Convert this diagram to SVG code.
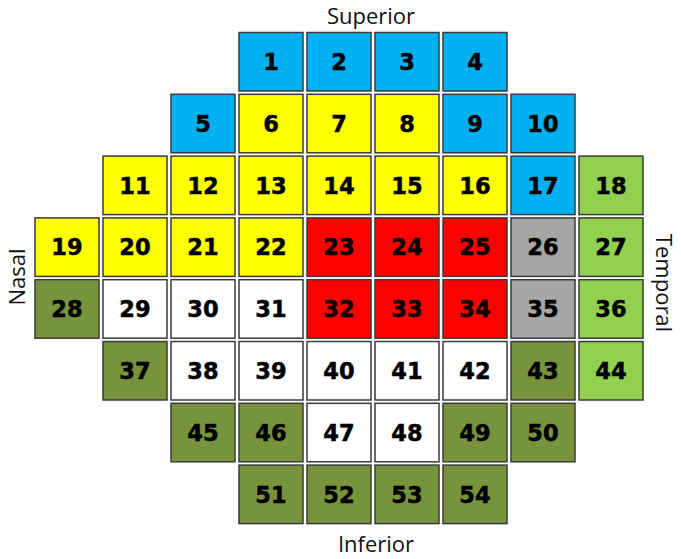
<svg xmlns="http://www.w3.org/2000/svg" width="681" height="559" viewBox="0 0 681 559">
<style>
.c{stroke:#3a3a3a;stroke-width:1.5}
.b{fill:#00B0F0}.y{fill:#FFFF00}.r{fill:#FF0000}.g{fill:#A6A6A6}.l{fill:#92D050}.d{fill:#77933C}.w{fill:#FFFFFF}
.n{font-family:"DejaVu Sans",Verdana,sans-serif;font-weight:bold;font-size:22.5px;text-anchor:middle;fill:#000;stroke:#000;stroke-width:0.5}
.lab{font-family:"Open Sans","Liberation Sans",sans-serif;font-size:22px;text-anchor:middle;fill:#111}
</style>
<rect width="681" height="559" fill="#fff"/>
<g id="labels">
<text class="lab" x="371" y="24">Superior</text>
<text class="lab" x="376" y="552">Inferior</text>
<text class="lab" transform="translate(25,277) rotate(-90)">Nasal</text>
<text class="lab" transform="translate(656,283) rotate(90)">Temporal</text>
</g>
<g id="cells">
<g id="c1"><rect class="c b" x="239" y="32.5" width="64" height="58.5"/><text class="n" x="271" y="70">1</text></g>
<g id="c2"><rect class="c b" x="307" y="32.5" width="64" height="58.5"/><text class="n" x="339" y="70">2</text></g>
<g id="c3"><rect class="c b" x="375" y="32.5" width="64" height="58.5"/><text class="n" x="407" y="70">3</text></g>
<g id="c4"><rect class="c b" x="443" y="32.5" width="64" height="58.5"/><text class="n" x="475" y="70">4</text></g>

<g id="c5"><rect class="c b" x="171" y="94.3" width="64" height="58.5"/><text class="n" x="203" y="131.8">5</text></g>
<g id="c6"><rect class="c y" x="239" y="94.3" width="64" height="58.5"/><text class="n" x="271" y="131.8">6</text></g>
<g id="c7"><rect class="c y" x="307" y="94.3" width="64" height="58.5"/><text class="n" x="339" y="131.8">7</text></g>
<g id="c8"><rect class="c y" x="375" y="94.3" width="64" height="58.5"/><text class="n" x="407" y="131.8">8</text></g>
<g id="c9"><rect class="c b" x="443" y="94.3" width="64" height="58.5"/><text class="n" x="475" y="131.8">9</text></g>
<g id="c10"><rect class="c b" x="511" y="94.3" width="64" height="58.5"/><text class="n" x="543" y="131.8">10</text></g>

<g id="c11"><rect class="c y" x="103" y="156.1" width="64" height="58.5"/><text class="n" x="135" y="193.6">11</text></g>
<g id="c12"><rect class="c y" x="171" y="156.1" width="64" height="58.5"/><text class="n" x="203" y="193.6">12</text></g>
<g id="c13"><rect class="c y" x="239" y="156.1" width="64" height="58.5"/><text class="n" x="271" y="193.6">13</text></g>
<g id="c14"><rect class="c y" x="307" y="156.1" width="64" height="58.5"/><text class="n" x="339" y="193.6">14</text></g>
<g id="c15"><rect class="c y" x="375" y="156.1" width="64" height="58.5"/><text class="n" x="407" y="193.6">15</text></g>
<g id="c16"><rect class="c y" x="443" y="156.1" width="64" height="58.5"/><text class="n" x="475" y="193.6">16</text></g>
<g id="c17"><rect class="c b" x="511" y="156.1" width="64" height="58.5"/><text class="n" x="543" y="193.6">17</text></g>
<g id="c18"><rect class="c l" x="579" y="156.1" width="64" height="58.5"/><text class="n" x="611" y="193.6">18</text></g>

<g id="c19"><rect class="c y" x="35" y="217.9" width="64" height="58.5"/><text class="n" x="67" y="255.4">19</text></g>
<g id="c20"><rect class="c y" x="103" y="217.9" width="64" height="58.5"/><text class="n" x="135" y="255.4">20</text></g>
<g id="c21"><rect class="c y" x="171" y="217.9" width="64" height="58.5"/><text class="n" x="203" y="255.4">21</text></g>
<g id="c22"><rect class="c y" x="239" y="217.9" width="64" height="58.5"/><text class="n" x="271" y="255.4">22</text></g>
<g id="c23"><rect class="c r" x="307" y="217.9" width="64" height="58.5"/><text class="n" x="339" y="255.4">23</text></g>
<g id="c24"><rect class="c r" x="375" y="217.9" width="64" height="58.5"/><text class="n" x="407" y="255.4">24</text></g>
<g id="c25"><rect class="c r" x="443" y="217.9" width="64" height="58.5"/><text class="n" x="475" y="255.4">25</text></g>
<g id="c26"><rect class="c g" x="511" y="217.9" width="64" height="58.5"/><text class="n" x="543" y="255.4">26</text></g>
<g id="c27"><rect class="c l" x="579" y="217.9" width="64" height="58.5"/><text class="n" x="611" y="255.4">27</text></g>

<g id="c28"><rect class="c d" x="35" y="279.7" width="64" height="58.5"/><text class="n" x="67" y="317.2">28</text></g>
<g id="c29"><rect class="c w" x="103" y="279.7" width="64" height="58.5"/><text class="n" x="135" y="317.2">29</text></g>
<g id="c30"><rect class="c w" x="171" y="279.7" width="64" height="58.5"/><text class="n" x="203" y="317.2">30</text></g>
<g id="c31"><rect class="c w" x="239" y="279.7" width="64" height="58.5"/><text class="n" x="271" y="317.2">31</text></g>
<g id="c32"><rect class="c r" x="307" y="279.7" width="64" height="58.5"/><text class="n" x="339" y="317.2">32</text></g>
<g id="c33"><rect class="c r" x="375" y="279.7" width="64" height="58.5"/><text class="n" x="407" y="317.2">33</text></g>
<g id="c34"><rect class="c r" x="443" y="279.7" width="64" height="58.5"/><text class="n" x="475" y="317.2">34</text></g>
<g id="c35"><rect class="c g" x="511" y="279.7" width="64" height="58.5"/><text class="n" x="543" y="317.2">35</text></g>
<g id="c36"><rect class="c l" x="579" y="279.7" width="64" height="58.5"/><text class="n" x="611" y="317.2">36</text></g>

<g id="c37"><rect class="c d" x="103" y="341.5" width="64" height="58.5"/><text class="n" x="135" y="379">37</text></g>
<g id="c38"><rect class="c w" x="171" y="341.5" width="64" height="58.5"/><text class="n" x="203" y="379">38</text></g>
<g id="c39"><rect class="c w" x="239" y="341.5" width="64" height="58.5"/><text class="n" x="271" y="379">39</text></g>
<g id="c40"><rect class="c w" x="307" y="341.5" width="64" height="58.5"/><text class="n" x="339" y="379">40</text></g>
<g id="c41"><rect class="c w" x="375" y="341.5" width="64" height="58.5"/><text class="n" x="407" y="379">41</text></g>
<g id="c42"><rect class="c w" x="443" y="341.5" width="64" height="58.5"/><text class="n" x="475" y="379">42</text></g>
<g id="c43"><rect class="c d" x="511" y="341.5" width="64" height="58.5"/><text class="n" x="543" y="379">43</text></g>
<g id="c44"><rect class="c l" x="579" y="341.5" width="64" height="58.5"/><text class="n" x="611" y="379">44</text></g>

<g id="c45"><rect class="c d" x="171" y="403.3" width="64" height="58.5"/><text class="n" x="203" y="440.8">45</text></g>
<g id="c46"><rect class="c d" x="239" y="403.3" width="64" height="58.5"/><text class="n" x="271" y="440.8">46</text></g>
<g id="c47"><rect class="c w" x="307" y="403.3" width="64" height="58.5"/><text class="n" x="339" y="440.8">47</text></g>
<g id="c48"><rect class="c w" x="375" y="403.3" width="64" height="58.5"/><text class="n" x="407" y="440.8">48</text></g>
<g id="c49"><rect class="c d" x="443" y="403.3" width="64" height="58.5"/><text class="n" x="475" y="440.8">49</text></g>
<g id="c50"><rect class="c d" x="511" y="403.3" width="64" height="58.5"/><text class="n" x="543" y="440.8">50</text></g>

<g id="c51"><rect class="c d" x="239" y="465.1" width="64" height="58.5"/><text class="n" x="271" y="502.6">51</text></g>
<g id="c52"><rect class="c d" x="307" y="465.1" width="64" height="58.5"/><text class="n" x="339" y="502.6">52</text></g>
<g id="c53"><rect class="c d" x="375" y="465.1" width="64" height="58.5"/><text class="n" x="407" y="502.6">53</text></g>
<g id="c54"><rect class="c d" x="443" y="465.1" width="64" height="58.5"/><text class="n" x="475" y="502.6">54</text></g>
</g>
<g id="connectors"/>
</svg>
